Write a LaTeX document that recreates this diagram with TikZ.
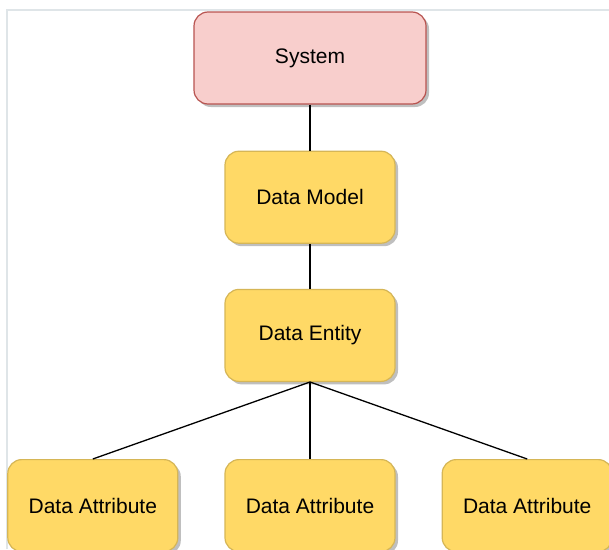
\documentclass[tikz,border=0pt]{standalone}
\usepackage{fontspec}
\setmainfont{Liberation Sans}
\usepackage{tikz}
\usepackage{xcolor}
\usetikzlibrary{positioning,shadows}
\definecolor{sysfill}{HTML}{F8CECC}
\definecolor{sysdraw}{HTML}{B85450}
\definecolor{datafill}{HTML}{FFD966}
\definecolor{datadraw}{HTML}{D6B656}
\definecolor{pageline}{HTML}{DFE5E8}
\tikzset{
  sysbox/.style = {
    rectangle,
    draw=sysdraw,
    fill=sysfill,
    line width=1.2pt,
    align=center,
    rounded corners=14pt,
    minimum width=232pt,
    minimum height=92pt,
    font=\fontsize{21}{25}\selectfont,
    drop shadow={shadow xshift=3pt, shadow yshift=-3pt, fill=black, opacity=.25}
  },
  databox/.style = {
    sysbox,
    draw=datadraw,
    fill=datafill,
    minimum width=170pt
  },
  treeline/.style = {
    line width=1.3pt
  }
}
\begin{document}
\begin{tikzpicture}[x=1pt,y=-1pt,node distance=46pt]
    \useasboundingbox[fill=white] (0,0) rectangle (609,549);
    \draw[pageline,line width=2pt] (7,549) -- (7,10) -- (609,10);
    \node[sysbox] (system) at (310,58) {System};
    \node[databox, below=of system] (model) {Data Model};
    \node[databox, below=45pt of model] (entity) {Data Entity};
    \node[databox, below=77pt of entity] (attrb) {Data Attribute};
    \node[databox, left=of attrb] (attra) {Data Attribute};
    \node[databox, right=of attrb] (attrc) {Data Attribute};
    \draw[treeline] (system) -- (model);
    \draw[treeline] (model) -- (entity);
    \draw[treeline] (entity.south) -- (attra.north);
    \draw[treeline] (entity.south) -- (attrb.north);
    \draw[treeline] (entity.south) -- (attrc.north);
\end{tikzpicture}
\end{document}
